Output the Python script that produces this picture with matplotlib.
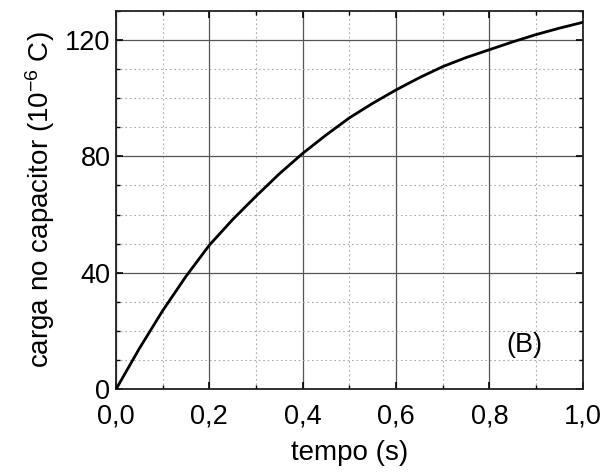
import matplotlib
matplotlib.use("Agg")
import matplotlib.pyplot as plt
from matplotlib.ticker import MultipleLocator, FuncFormatter

# Data
tempo = [0.0, 0.05, 0.1, 0.15, 0.2, 0.25, 0.3, 0.35, 0.4, 0.45, 0.5,
         0.55, 0.6, 0.65, 0.7, 0.75, 0.8, 0.85, 0.9, 0.95, 1.0]
carga = [0.0, 14.0, 27.0, 38.8, 49.5, 58.3, 66.3, 74.0, 81.0, 87.3, 93.2,
         98.2, 102.8, 107.0, 110.8, 113.9, 116.6, 119.3, 121.8, 124.0, 126.0]
x_ticks = [0.0, 0.2, 0.4, 0.6, 0.8, 1.0]
y_ticks = [0, 40, 80, 120]

plt.rcParams['font.family'] = ['Liberation Sans', 'DejaVu Sans']
plt.rcParams['mathtext.fontset'] = 'custom'
plt.rcParams['mathtext.rm'] = 'Liberation Sans'
plt.rcParams['mathtext.it'] = 'Liberation Sans'

fig = plt.figure(figsize=(6.06, 4.73), dpi=100)
ax = fig.add_axes([0.1914, 0.1769, 0.9616 - 0.1914, 0.9774 - 0.1769])

ax.plot(tempo, carga, color='black', lw=2.0, zorder=3)

ax.set_xlim(0, 1.0)
ax.set_ylim(0, 130)
ax.set_xticks(x_ticks)
ax.set_yticks(y_ticks)
ax.xaxis.set_minor_locator(MultipleLocator(0.1))
ax.yaxis.set_minor_locator(MultipleLocator(10))
ax.xaxis.set_major_formatter(FuncFormatter(lambda v, p: f"{v:.1f}".replace('.', ',')))
ax.yaxis.set_major_formatter(FuncFormatter(lambda v, p: f"{v:.0f}"))

ax.grid(which='major', color='#555555', lw=0.9, ls='-')
ax.grid(which='minor', color='#aaaaaa', lw=0.8, ls=(0, (1.5, 2.5)))
ax.set_axisbelow(True)

ax.tick_params(which='both', direction='in', top=True, right=True,
               labelsize=19.5, color='black')
ax.tick_params(axis='x', which='major', pad=10)
ax.tick_params(axis='y', which='major', pad=4)
ax.tick_params(which='major', length=5, width=1.2)
ax.tick_params(which='minor', length=3, width=1.0)
for s in ax.spines.values():
    s.set_linewidth(1.3)
    s.set_color('#222222')

ax.set_xlabel('tempo (s)', fontsize=20, labelpad=8)
ax.set_ylabel('carga no capacitor (10$^{\\mathrm{-6}}$ C)', fontsize=20, labelpad=6)
ax.text(0.876, 0.117, '(B)', transform=ax.transAxes, fontsize=19.5, ha='center', va='center')

fig.savefig('out.png', dpi=100)
